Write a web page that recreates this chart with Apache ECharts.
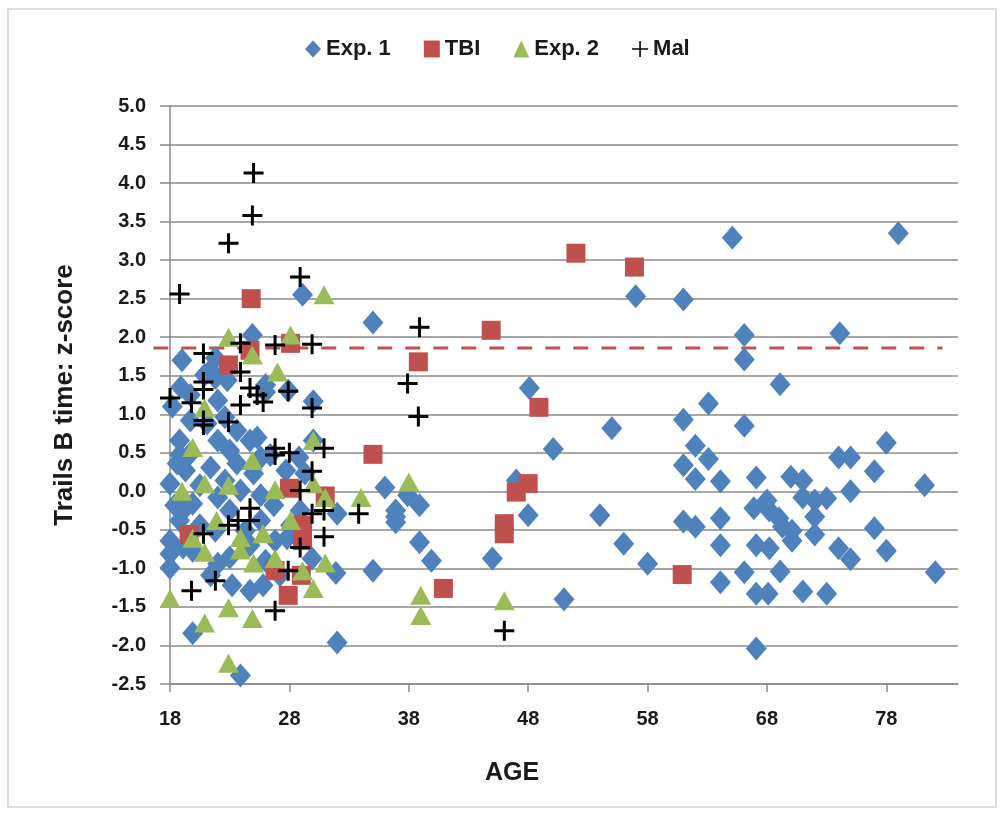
<!DOCTYPE html>
<html>
<head>
<meta charset="utf-8">
<script src="https://cdn.jsdelivr.net/npm/echarts@6/dist/echarts.min.js"></script>
<style>
  html, body { margin: 0; padding: 0; background: #fff; }
  #chart { width: 1006px; height: 815px; }
</style>
</head>
<body>
<div id="chart"></div>
<script>
// [age, z-score]
const exp1 = [
  [19.0, 1.70], [18.9, 1.35], [18.2, 1.10], [20.9, 1.51], [21.8, 1.47], [19.7, 0.92], [21.4, 1.57],
  [26.0, 1.38], [24.9, 2.03], [29.1, 2.55], [30.0, 1.17], [30.0, 0.66], [24.7, 0.66], [18.8, 0.66],
  [18.8, 0.47], [19.7, 0.49], [18.6, 0.36], [22.0, 0.66], [23.0, 0.53], [25.6, 0.44], [23.6, 0.36],
  [21.4, 0.31], [25.0, 0.23], [21.1, 0.88], [22.0, 1.18], [22.6, 0.96], [23.6, 0.79], [25.3, 0.70],
  [18.0, 0.10], [19.9, -0.16], [19.1, -0.25], [22.0, -0.08], [23.0, -0.25], [20.5, 0.08], [18.0, -0.81],
  [18.0, -0.99], [18.0, -0.64], [19.1, -0.73], [19.9, -0.77], [22.0, -0.94], [23.0, -0.86], [24.7, -1.29],
  [25.8, -1.22], [19.9, -1.84], [23.9, -2.39], [32.0, -1.96], [35.0, -1.03], [32.0, -0.29], [29.9, -0.87],
  [27.8, -0.61], [26.7, -0.18], [31.9, -1.06], [20.5, -0.44], [21.8, -0.51], [24.3, -0.51], [25.6, -0.38],
  [26.8, -0.64], [28.1, -0.44], [28.9, -0.25], [27.7, 0.27], [26.4, 0.47], [28.8, 0.44], [27.9, 1.31],
  [26.0, 1.29], [29.3, 0.23], [23.9, 0.01], [22.6, 0.14], [19.3, 0.27], [25.6, -0.05], [18.8, -0.38],
  [24.7, -0.70], [26.0, -0.90], [27.2, -1.09], [23.2, -1.22], [21.4, -1.09], [22.8, 1.44], [19.7, 1.25],
  [18.4, -0.18], [21.8, 1.73], [35.0, 2.19],
  [36.0, 0.05], [37.9, -0.05], [38.9, -0.18], [36.9, -0.25], [36.9, -0.33], [36.9, -0.40], [38.9, -0.66],
  [39.9, -0.90], [45.0, -0.87], [48.1, 1.34], [48.0, -0.31], [47.0, 0.14], [50.1, 0.55], [51.0, -1.40],
  [54.0, -0.31], [55.0, 0.82], [56.0, -0.68], [58.0, -0.94], [57.0, 2.53],
  [61.0, 2.49], [65.1, 3.29], [79.0, 3.35], [66.1, 2.03], [74.1, 2.05], [66.1, 1.71], [69.1, 1.39],
  [63.1, 1.14], [61.0, 0.93], [66.1, 0.85], [62.0, 0.59], [78.0, 0.63], [63.1, 0.42], [61.0, 0.34],
  [62.0, 0.16], [64.1, 0.13], [67.1, 0.18], [74.0, 0.44], [75.0, 0.44], [77.0, 0.26], [81.2, 0.08],
  [75.0, 0.00], [70.0, 0.19], [71.0, 0.14], [71.0, -0.08], [72.0, -0.12], [73.0, -0.09], [68.0, -0.12],
  [66.9, -0.22], [69.0, -0.35], [70.1, -0.51], [72.0, -0.33], [72.0, -0.56], [77.0, -0.48], [61.0, -0.39],
  [62.0, -0.46], [64.1, -0.35], [68.2, -0.25], [69.3, -0.46], [70.1, -0.64], [64.1, -0.70], [67.1, -0.70],
  [68.2, -0.74], [74.0, -0.74], [75.0, -0.88], [78.0, -0.77], [64.1, -1.18], [66.1, -1.05], [69.1, -1.04],
  [67.1, -1.33], [68.1, -1.33], [71.0, -1.30], [73.0, -1.33], [82.1, -1.05], [67.1, -2.04]
];

const tbi = [
  [52.0, 3.09], [56.9, 2.91], [24.8, 2.50], [44.9, 2.09], [38.8, 1.68], [48.9, 1.09], [35.0, 0.48],
  [48.0, 0.10], [47.0, -0.01], [46.0, -0.42], [46.0, -0.55], [40.9, -1.26], [60.9, -1.08], [28.1, 1.92],
  [24.7, 1.83], [22.9, 1.64], [28.0, 0.04], [31.0, -0.06], [29.1, -0.44], [29.1, -0.64], [19.6, -0.56],
  [26.8, -1.03], [29.0, -1.09], [27.9, -1.35]
];

const exp2 = [
  [30.9, 2.55], [22.9, 2.00], [28.1, 2.03], [24.9, 1.77], [27.0, 1.55], [20.9, 1.08], [30.0, 0.66],
  [19.9, 0.57], [17.7, 0.60], [24.9, 0.40], [19.0, 0.00], [20.9, 0.10], [22.9, 0.08], [26.8, 0.02],
  [30.0, 0.10], [31.0, -0.08], [34.0, -0.08], [38.0, 0.12], [28.1, -0.38], [21.9, -0.38], [25.8, -0.55],
  [23.9, -0.60], [19.9, -0.61], [20.9, -0.79], [23.9, -0.76], [25.0, -0.93], [26.8, -0.87], [29.1, -1.03],
  [31.0, -0.93], [30.0, -1.26], [18.0, -1.39], [22.9, -1.51], [20.9, -1.71], [24.9, -1.65], [22.9, -2.23],
  [39.0, -1.35], [39.0, -1.61], [46.0, -1.42]
];

const mal = [
  [25.0, 4.13], [24.9, 3.58], [22.9, 3.22], [28.9, 2.78], [18.8, 2.56], [38.9, 2.13], [23.9, 1.92],
  [26.8, 1.90], [29.9, 1.91], [20.8, 1.79], [23.9, 1.55], [24.7, 1.34], [25.3, 1.25], [25.8, 1.16],
  [27.9, 1.30], [29.9, 1.08], [20.8, 1.42], [20.8, 1.32], [18.0, 1.21], [19.8, 1.15], [23.9, 1.12],
  [20.8, 0.92], [20.8, 0.86], [22.9, 0.90], [17.8, 0.71], [37.9, 1.40], [38.8, 0.97], [26.8, 0.56],
  [26.8, 0.47], [28.0, 0.50], [30.9, 0.56], [29.9, 0.26], [28.9, 0.01], [30.9, -0.25], [29.9, -0.29],
  [24.7, -0.22], [24.7, -0.38], [23.7, -0.38], [22.9, -0.44], [20.8, -0.55], [33.8, -0.29], [30.9, -0.59],
  [28.9, -0.73], [27.9, -1.03], [21.8, -1.16], [19.8, -1.29], [26.8, -1.55], [46.0, -1.81]
];

// red dashed cut-off, runs a little past the y axis on the left
const cutoff = [[16.6, 1.86], [82.7, 1.86]];

const xTicks = [18, 28, 38, 48, 58, 68, 78];

const FONT = 'Liberation Sans';
const plusPath = 'path://M8.5,0h3v8.5h8.5v3h-8.5v8.5h-3v-8.5h-8.5v-3h8.5z';
const plusThin = 'path://M9,0h2v9h9v2h-9v9h-2v-9h-9v-2h9z';
const labelColor = '#1a1a1a';
const gridColor = '#8a8a8a';

const chart = echarts.init(document.getElementById('chart'));

chart.setOption({
  backgroundColor: '#fff',
  animation: false,
  textStyle: { fontFamily: FONT },
  legend: {
    top: 33,
    left: 300,
    itemWidth: 16,
    itemHeight: 17,
    itemGap: 33,
    textStyle: { fontSize: 22, fontWeight: 'bold', color: labelColor, fontFamily: FONT },
    data: [
      { name: 'Exp. 1', icon: 'diamond' },
      { name: 'TBI', icon: 'rect' },
      { name: 'Exp. 2', icon: 'triangle' },
      { name: 'Mal', icon: plusThin }
    ]
  },
  grid: { left: 170, top: 106, right: 48, bottom: 131 },
  xAxis: {
    type: 'value',
    min: 18,
    max: 84,
    interval: 10,
    name: 'AGE',
    nameLocation: 'middle',
    nameGap: 77,
    nameTextStyle: { fontSize: 25, fontWeight: 'bold', color: labelColor, padding: [0, 104, 0, 0] },
    axisLine: { onZero: false, lineStyle: { color: gridColor, width: 1.5 } },
    axisTick: { show: true, length: 8, lineStyle: { color: gridColor, width: 1.5 }, customValues: xTicks },
    axisLabel: { fontSize: 20, fontWeight: 'bold', color: labelColor, margin: 25, customValues: xTicks },
    splitLine: { show: false }
  },
  yAxis: {
    type: 'value',
    min: -2.5,
    max: 5,
    interval: 0.5,
    name: 'Trails B time: z-score',
    nameLocation: 'middle',
    nameGap: 92,
    nameTextStyle: { fontSize: 26, fontWeight: 'bold', color: labelColor },
    axisLine: { show: true, onZero: false, lineStyle: { color: gridColor, width: 1.5 } },
    axisTick: { show: true, length: 10, lineStyle: { color: gridColor, width: 1.5 } },
    axisLabel: {
      fontSize: 20, fontWeight: 'bold', color: labelColor, margin: 24,
      formatter: (v) => v.toFixed(1)
    },
    splitLine: { lineStyle: { color: gridColor, width: 1.5 } }
  },
  series: [
    {
      name: 'Exp. 1',
      type: 'scatter',
      symbol: 'diamond',
      symbolSize: [21, 24],
      itemStyle: { color: '#4F81BD', opacity: 1 },
      data: exp1
    },
    {
      name: 'TBI',
      type: 'scatter',
      symbol: 'rect',
      symbolSize: 19,
      itemStyle: { color: '#C0504D', opacity: 1 },
      data: tbi
    },
    {
      name: 'Exp. 2',
      type: 'scatter',
      symbol: 'triangle',
      symbolSize: [21, 19],
      itemStyle: { color: '#9BBB59', opacity: 1 },
      data: exp2
    },
    {
      name: 'Mal',
      type: 'scatter',
      symbol: plusPath,
      symbolSize: 20,
      itemStyle: { color: '#000', opacity: 1 },
      data: mal
    }
  ]
});

// outer frame + cut-off line, placed through the chart's own scales
const p0 = chart.convertToPixel({ gridIndex: 0 }, cutoff[0]);
const p1 = chart.convertToPixel({ gridIndex: 0 }, cutoff[1]);
chart.setOption({
  graphic: [
    {
      type: 'rect',
      shape: { x: 8, y: 9, width: 988, height: 798 },
      style: { fill: 'none', stroke: '#d4d4d4', lineWidth: 1.5 },
      silent: true
    },
    {
      type: 'line',
      z: 1,
      silent: true,
      shape: { x1: p0[0], y1: p0[1], x2: p1[0], y2: p1[1] },
      style: { stroke: '#C0504D', lineWidth: 3, lineDash: [15, 13] }
    }
  ]
});
</script>
</body>
</html>
